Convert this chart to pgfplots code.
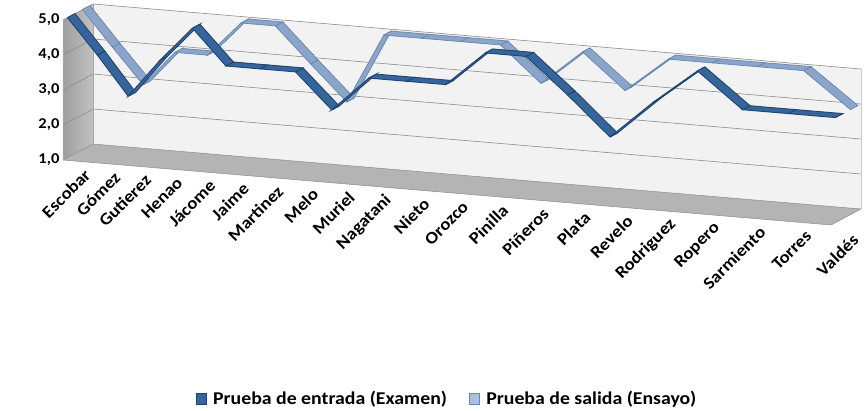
\documentclass[border=0pt]{standalone}
\usepackage{fontspec}
\setmainfont{Carlito}[FakeStretch=1.1]
\usepackage{pgfplots}
\usepackage{pgfplotstable}
\pgfplotsset{compat=1.18}
\definecolor{entc}{HTML}{36659B}
\definecolor{entd}{HTML}{1F446F}
\definecolor{salc}{HTML}{8AA4CA}
\definecolor{sald}{HTML}{6A86AE}
\definecolor{wallc}{HTML}{F2F2F2}
\definecolor{floorc}{HTML}{B4B4B4}
\definecolor{gridc}{HTML}{8C8C8C}

% ribbon of each series: front row (d) and back row of the ribbon
\pgfplotstableread{
x d v
0      0.15 5.0
0.778  0.15 4.0
1.580  0.15 2.9
2.405  0.15 4.0
3.254  0.15 5.0
4.126  0.15 4.0
5.021  0.15 4.0
5.939  0.15 4.0
6.881  0.15 3.0
7.846  0.15 4.0
8.834  0.15 4.0
9.846  0.15 4.0
10.881 0.15 5.0
11.939 0.15 5.0
13.021 0.15 4.0
14.126 0.15 2.9
15.254 0.15 4.0
16.405 0.15 5.0
17.580 0.15 4.0
18.778 0.15 4.0
20     0.15 4.0
0      0.40 5.0
0.778  0.40 4.0
1.580  0.40 2.9
2.405  0.40 4.0
3.254  0.40 5.0
4.126  0.40 4.0
5.021  0.40 4.0
5.939  0.40 4.0
6.881  0.40 3.0
7.846  0.40 4.0
8.834  0.40 4.0
9.846  0.40 4.0
10.881 0.40 5.0
11.939 0.40 5.0
13.021 0.40 4.0
14.126 0.40 2.9
15.254 0.40 4.0
16.405 0.40 5.0
17.580 0.40 4.0
18.778 0.40 4.0
20     0.40 4.0
}\entrada

\pgfplotstableread{
x d v
0      0.65 5.0
0.778  0.65 4.0
1.580  0.65 3.0
2.405  0.65 4.0
3.254  0.65 4.0
4.126  0.65 5.0
5.021  0.65 5.0
5.939  0.65 4.0
6.881  0.65 3.0
7.846  0.65 5.0
8.834  0.65 5.0
9.846  0.65 5.0
10.881 0.65 5.0
11.939 0.65 4.0
13.021 0.65 5.0
14.126 0.65 4.0
15.254 0.65 5.0
16.405 0.65 5.0
17.580 0.65 5.0
18.778 0.65 5.0
20     0.65 4.0
0      0.90 5.0
0.778  0.90 4.0
1.580  0.90 3.0
2.405  0.90 4.0
3.254  0.90 4.0
4.126  0.90 5.0
5.021  0.90 5.0
5.939  0.90 4.0
6.881  0.90 3.0
7.846  0.90 5.0
8.834  0.90 5.0
9.846  0.90 5.0
10.881 0.90 5.0
11.939 0.90 4.0
13.021 0.90 5.0
14.126 0.90 4.0
15.254 0.90 5.0
16.405 0.90 5.0
17.580 0.90 5.0
18.778 0.90 5.0
20     0.90 4.0
}\salida

\begin{document}
\begin{tikzpicture}
\begin{axis}[
  x={(38.4pt,-3.25pt)}, y={(30pt,16pt)}, z={(0pt,35pt)},
  xmin=0, xmax=20, ymin=0, ymax=1, zmin=1, zmax=5,
  clip=false,
  axis line style={draw=none},
  tick style={draw=none},
  major tick length=0pt,
  xtick={0,0.778,1.580,2.405,3.254,4.126,5.021,5.939,6.881,7.846,8.834,9.846,10.881,11.939,13.021,14.126,15.254,16.405,17.580,18.778,20},
  xticklabels={Escobar,Gómez,Gutierez,Henao,Jácome,Jaime,Martinez,Melo,Muriel,Nagatani,Nieto,Orozco,Pinilla,Piñeros,Plata,Revelo,Rodriguez,Ropero,Sarmiento,Torres,Valdés},
  x tick label style={rotate=45, anchor=east, font=\bfseries\fontsize{17}{17}\selectfont, xshift=12pt, yshift=-26pt},
  ytick=\empty,
  ztick={1,2,3,4,5},
  z tick label style={anchor=east, font=\bfseries\fontsize{15}{15}\selectfont},
  /pgf/number format/assume math mode=true,
  zticklabel style={/pgf/number format/.cd, fixed, fixed zerofill, precision=1, use comma},
  legend columns=2,
  legend style={draw=none, fill=none, at={(rel axis cs:0.5,0,0)}, anchor=center, yshift=-206pt,
    font=\bfseries\fontsize{18}{18}\selectfont,
    /tikz/every even column/.append style={column sep=20pt}},
]
% walls and floor
\shade[left color=black!38, right color=black!24] (axis cs:0,0,1) -- (axis cs:0,1,1) -- (axis cs:0,1,5) -- (axis cs:0,0,5) -- cycle;
\fill[wallc] (axis cs:0,1,1) -- (axis cs:20,1,1) -- (axis cs:20,1,5) -- (axis cs:0,1,5) -- cycle;
\fill[floorc] (axis cs:0,0,1) -- (axis cs:20,0,1) -- (axis cs:20,1,1) -- (axis cs:0,1,1) -- cycle;
\pgfplotsinvokeforeach{2,3,4,5}{
  \draw[gridc, line width=0.6pt] (axis cs:0,0,#1) -- (axis cs:0,1,#1) -- (axis cs:20,1,#1);
}
\draw[black!45, line width=0.5pt] (axis cs:0,0,1) -- (axis cs:0,1,1) -- (axis cs:20,1,1);
\draw[black!45, line width=0.5pt] (axis cs:0,0,1) -- (axis cs:20,0,1) -- (axis cs:20,1,1);
\draw[black!20, line width=0.4pt] (axis cs:20,1,1) -- (axis cs:20,1,5);
\draw[black!35, line width=0.5pt] (axis cs:0,0,1) -- (axis cs:0,0,5);
\draw[black!35, line width=0.5pt] (axis cs:0,1,1) -- (axis cs:0,1,5);
\coordinate (FLB) at (axis cs:0,0,1);

\addlegendimage{legend image code/.code={\fill[entc] (0pt,-5.5pt) rectangle (10pt,5.5pt); \draw[entd, line width=0.6pt] (0pt,-5.5pt) rectangle (10pt,5.5pt); \path[draw=none, fill=none] (0pt,0pt) rectangle (15pt,0.1pt);}}
\addlegendentry{Prueba de entrada (Examen)}
\addlegendimage{legend image code/.code={\fill[salc!70!white] (0pt,-5.5pt) rectangle (10pt,5.5pt); \draw[sald, line width=0.6pt] (0pt,-5.5pt) rectangle (10pt,5.5pt); \path[draw=none, fill=none] (0pt,0pt) rectangle (15pt,0.1pt);}}
\addlegendentry{Prueba de salida (Ensayo)}

\addplot3[surf, shader=faceted, faceted color=sald, line width=0.7pt, z buffer=sort, mesh/cols=21,
  colormap={salmap}{color=(salc) color=(salc)}, forget plot]
  table[x=x, y=d, z=v] {\salida};
\addplot3[surf, shader=faceted, faceted color=entd, line width=0.9pt, z buffer=sort, mesh/cols=21,
  colormap={entmap}{color=(entc) color=(entc)}, forget plot]
  table[x=x, y=d, z=v] {\entrada};
\end{axis}
\pgfresetboundingbox
\path[use as bounding box] ([shift={(-63pt,-250pt)}]FLB) rectangle ([shift={(804pt,160pt)}]FLB);
\end{tikzpicture}
\end{document}
